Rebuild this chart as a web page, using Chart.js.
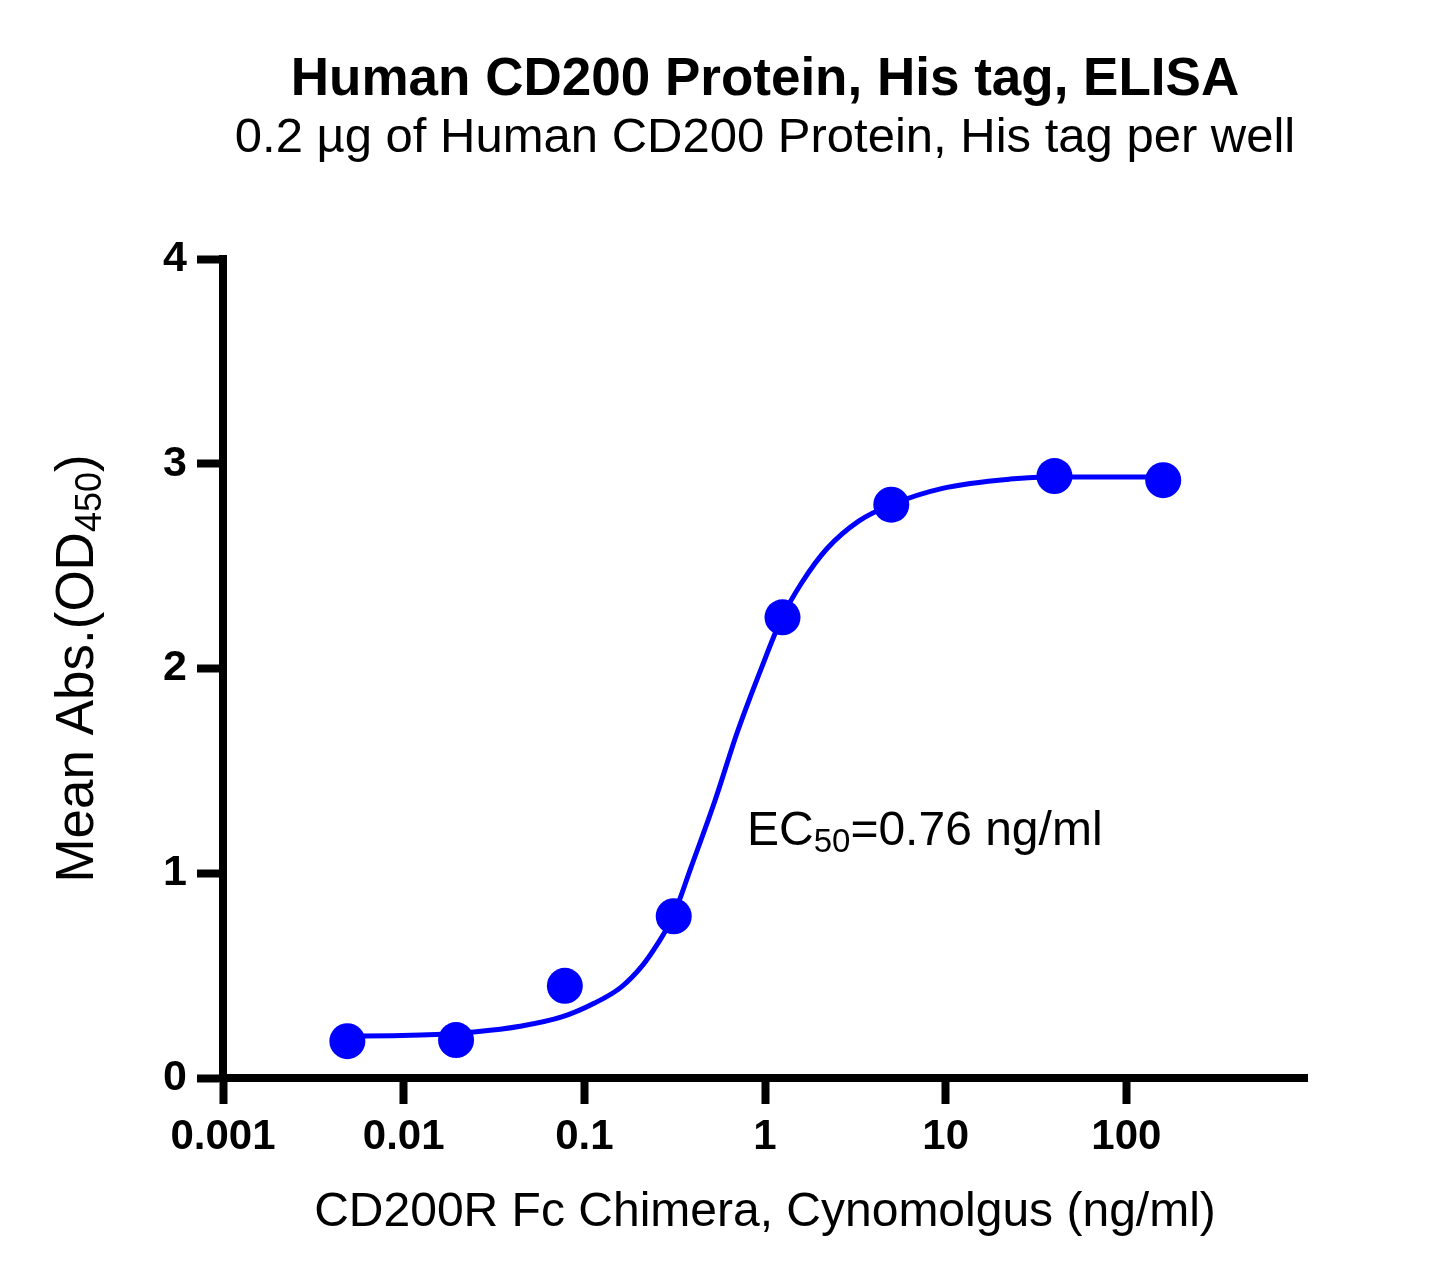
<!DOCTYPE html>
<html>
<head>
<meta charset="utf-8">
<script src="https://cdn.jsdelivr.net/npm/chart.js@4.4.1/dist/chart.umd.min.js"></script>
<style>
  html, body { margin: 0; padding: 0; background: #fff; }
  canvas { display: block; }
</style>
</head>
<body>
<canvas id="elisa" width="1445" height="1277"></canvas>
<script>
// measured points (ng/ml vs mean OD450)
const conc = [0.00488, 0.0195, 0.078, 0.3125, 1.25, 5, 40, 160];
const meanAbs = [0.18, 0.185, 0.45, 0.79, 2.25, 2.80, 2.94, 2.92];

// fitted curve
const curveConc = [0.0049, 0.006, 0.0124, 0.0245, 0.045, 0.075, 0.114, 0.16, 0.21, 0.25,
    0.31, 0.39, 0.53, 0.70, 0.96, 1.24, 1.6, 2.2, 3.3, 5, 9.6, 22.7, 40, 160];
const curveAbs = [0.205, 0.205, 0.21, 0.225, 0.254, 0.298, 0.366, 0.444, 0.55, 0.645,
    0.79, 1.03, 1.358, 1.685, 2.007, 2.247, 2.42, 2.585, 2.72, 2.80, 2.88, 2.925, 2.935, 2.935];

const xTicks = [0.001, 0.01, 0.1, 1, 10, 100];
const xTickLabels = ["0.001", "0.01", "0.1", "1", "10", "100"];
const yTicks = [0, 1, 2, 3, 4];

const FONT = "'Liberation Sans', Arial, sans-serif";
const BLUE = "#0000FF";

const textPlugin = {
    id: "texts",
    afterDraw(chart) {
        const ctx = chart.ctx;
        const area = chart.chartArea;
        const cx = (area.left + area.right) / 2;
        ctx.save();
        ctx.fillStyle = "#000";
        ctx.textBaseline = "alphabetic";
        ctx.textAlign = "center";

        ctx.font = "bold 53px " + FONT;
        ctx.fillText("Human CD200 Protein, His tag, ELISA", cx, 95);
        ctx.font = "49px " + FONT;
        ctx.fillText("0.2 \u00b5g of Human CD200 Protein, His tag per well", cx, 152);
        ctx.font = "48px " + FONT;
        ctx.fillText("CD200R Fc Chimera, Cynomolgus (ng/ml)", cx, 1226);

        // text with a subscript, drawn piece by piece
        const fontOf = (p, size) => (p.sub ? Math.round(size * 0.68) : size) + "px " + FONT;
        const drawSub = (parts, x, y, size) => {
            ctx.textAlign = "left";
            parts.forEach(p => {
                ctx.font = fontOf(p, size);
                ctx.fillText(p.t, x, y + (p.sub ? size * 0.15 : 0));
                x += ctx.measureText(p.t).width;
            });
        };
        const widthOf = (parts, size) => parts.reduce((w, p) => {
            ctx.font = fontOf(p, size);
            return w + ctx.measureText(p.t).width;
        }, 0);

        drawSub([{ t: "EC" }, { t: "50", sub: true }, { t: "=0.76 ng/ml" }], 747, 845, 48);

        const yTitle = [{ t: "Mean Abs.(OD" }, { t: "450", sub: true }, { t: ")" }];
        ctx.translate(93, (area.top + area.bottom) / 2);
        ctx.rotate(-Math.PI / 2);
        drawSub(yTitle, -widthOf(yTitle, 53) / 2, 0, 53);
        ctx.restore();
    }
};

new Chart(document.getElementById("elisa"), {
    type: "scatter",
    data: {
        datasets: [
            {
                label: "Mean Abs.",
                data: conc.map((c, i) => ({ x: c, y: meanAbs[i] })),
                pointRadius: 18,
                pointBackgroundColor: BLUE,
                pointBorderWidth: 0,
                showLine: false,
                order: 0,
            },
            {
                label: "Fit",
                data: curveConc.map((c, i) => ({ x: c, y: curveAbs[i] })),
                showLine: true,
                borderColor: BLUE,
                borderWidth: 5,
                pointRadius: 0,
                cubicInterpolationMode: "monotone",
                order: 1,
            },
        ],
    },
    options: {
        responsive: false,
        animation: false,
        layout: { padding: { left: 0, top: 259, right: 138, bottom: 0 } },
        plugins: {
            legend: { display: false },
            tooltip: { enabled: false },
            title: { display: false },
        },
        scales: {
            x: {
                type: "logarithmic",
                min: 0.001,
                max: 1000,
                afterBuildTicks: scale => {
                    scale.ticks = xTicks.map(v => ({ value: v }));
                },
                afterFit: scale => { scale.height = 199; },
                ticks: {
                    autoSkip: false,
                    maxRotation: 0,
                    padding: 8,
                    color: "#000",
                    font: { family: FONT, size: 42, weight: "bold" },
                    callback: (v, i) => xTickLabels[i],
                },
                grid: {
                    drawOnChartArea: false,
                    drawTicks: true,
                    tickLength: 26,
                    tickWidth: 8,
                    tickColor: "#000",
                },
                border: { display: true, color: "#000", width: 8 },
            },
            y: {
                min: 0,
                max: 4,
                afterBuildTicks: scale => {
                    scale.ticks = yTicks.map(v => ({ value: v }));
                },
                afterFit: scale => { scale.width = 223; },
                ticks: {
                    padding: 10,
                    color: "#000",
                    font: { family: FONT, size: 43, weight: "bold" },
                },
                grid: {
                    drawOnChartArea: false,
                    drawTicks: true,
                    tickLength: 26,
                    tickWidth: 8,
                    tickColor: "#000",
                },
                border: { display: true, color: "#000", width: 8 },
            },
        },
    },
    plugins: [textPlugin],
});
</script>
</body>
</html>
